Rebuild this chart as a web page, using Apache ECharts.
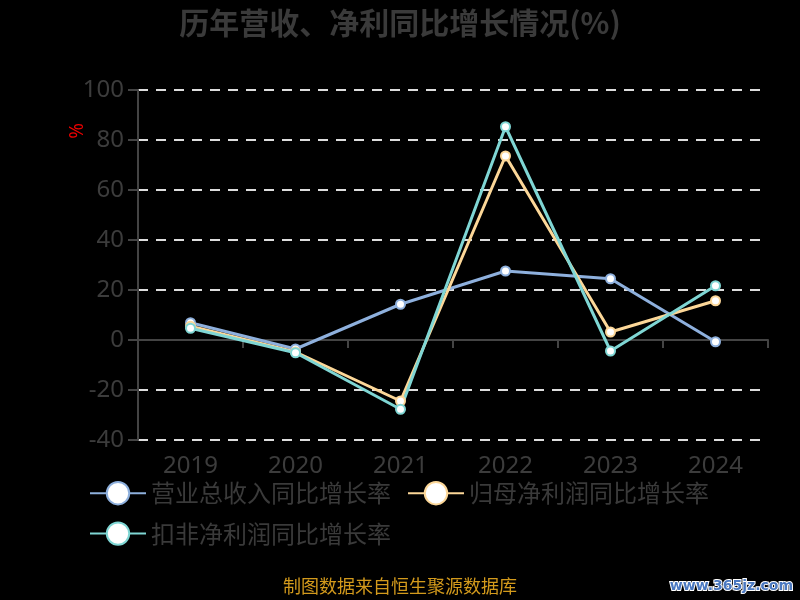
<!DOCTYPE html>
<html><head><meta charset="utf-8">
<script src="https://cdn.jsdelivr.net/npm/echarts@6/dist/echarts.min.js"></script>
<style>html,body{margin:0;padding:0;background:#000;}#c{width:800px;height:600px;}</style>
</head><body><div id="c"></div>
<script>
var years = ['2019','2020','2021','2022','2023','2024'];
var revenueGrowth = [6.9, -3.6, 14.3, 27.6, 24.5, -0.7];
var netProfitGrowth = [5.5, -4.8, -24.4, 73.6, 3.2, 15.7];
var deductedProfitGrowth = [4.7, -5.1, -27.7, 85.3, -4.4, 21.7];
var seriesNames = ['营业总收入同比增长率', '归母净利润同比增长率', '扣非净利润同比增长率'];
var colors = ['#8EB0DD', '#FCD798', '#7FD6D4'];

var chart = echarts.init(document.getElementById('c'));
function mk(i, data, label) {
  return {
    name: seriesNames[i], type: 'line', data: data,
    symbol: 'circle', symbolSize: 9,
    lineStyle: {width: 3, color: colors[i]},
    itemStyle: {color: '#fff', borderColor: colors[i], borderWidth: 2},
    label: {show: label, position: 'top', color: '#000', fontSize: 16, formatter: function(p){return p.value.toFixed(2);}}
  };
}
chart.setOption({
  backgroundColor: '#000',
  color: colors,
  title: {text: '历年营收、净利同比增长情况(%)', left: 'center', top: 3,
    textStyle: {color: '#3a3a3a', fontSize: 30, fontWeight: 'bold', fontFamily: 'Noto Sans CJK SC'}},
  grid: {left: 138, right: 32, top: 90, bottom: 160},
  legend: {left: 84, top: 476, width: 660, itemGap: 16, itemWidth: 56, itemHeight: 28,
    textStyle: {color: '#3a3a3a', fontSize: 24, fontFamily: 'Noto Sans CJK SC'}, data: seriesNames},
  xAxis: {type: 'category', data: years, boundaryGap: true,
    axisLine: {lineStyle: {color: '#444', width: 2}},
    axisTick: {show: true, length: 8, lineStyle: {color: '#444', width: 2}},
    axisLabel: {color: '#3c3c3c', fontSize: 24, margin: 14, fontFamily: 'Noto Sans'}},
  yAxis: {type: 'value', min: -40, max: 100, interval: 20,
    axisLine: {show: true, lineStyle: {color: '#444', width: 2}},
    axisTick: {show: true, length: 10, lineStyle: {color: '#444', width: 2}},
    axisLabel: {color: '#3c3c3c', fontSize: 24, margin: 14, fontFamily: 'Noto Sans'},
    splitLine: {lineStyle: {color: '#ddd', type: [10, 8], width: 2}}},
  graphic: [
    {type: 'text', left: 68, top: 123, rotation: Math.PI/2, style: {text: '%', fill: '#e00', font: '19px Noto Sans'}},
    {type: 'text', left: 'center', top: 577, style: {text: '制图数据来自恒生聚源数据库', fill: '#d39a1c', font: '18px "Noto Sans CJK SC"'}},
    {type: 'text', right: 6, top: 578, style: {text: 'www.365jz.com', fill: '#4a78c0', stroke: '#fff', lineWidth: 2, font: 'bold 14px "DejaVu Sans"'}}
  ],
  series: [mk(0, revenueGrowth, true), mk(1, netProfitGrowth, false), mk(2, deductedProfitGrowth, false)]
});
</script></body></html>
